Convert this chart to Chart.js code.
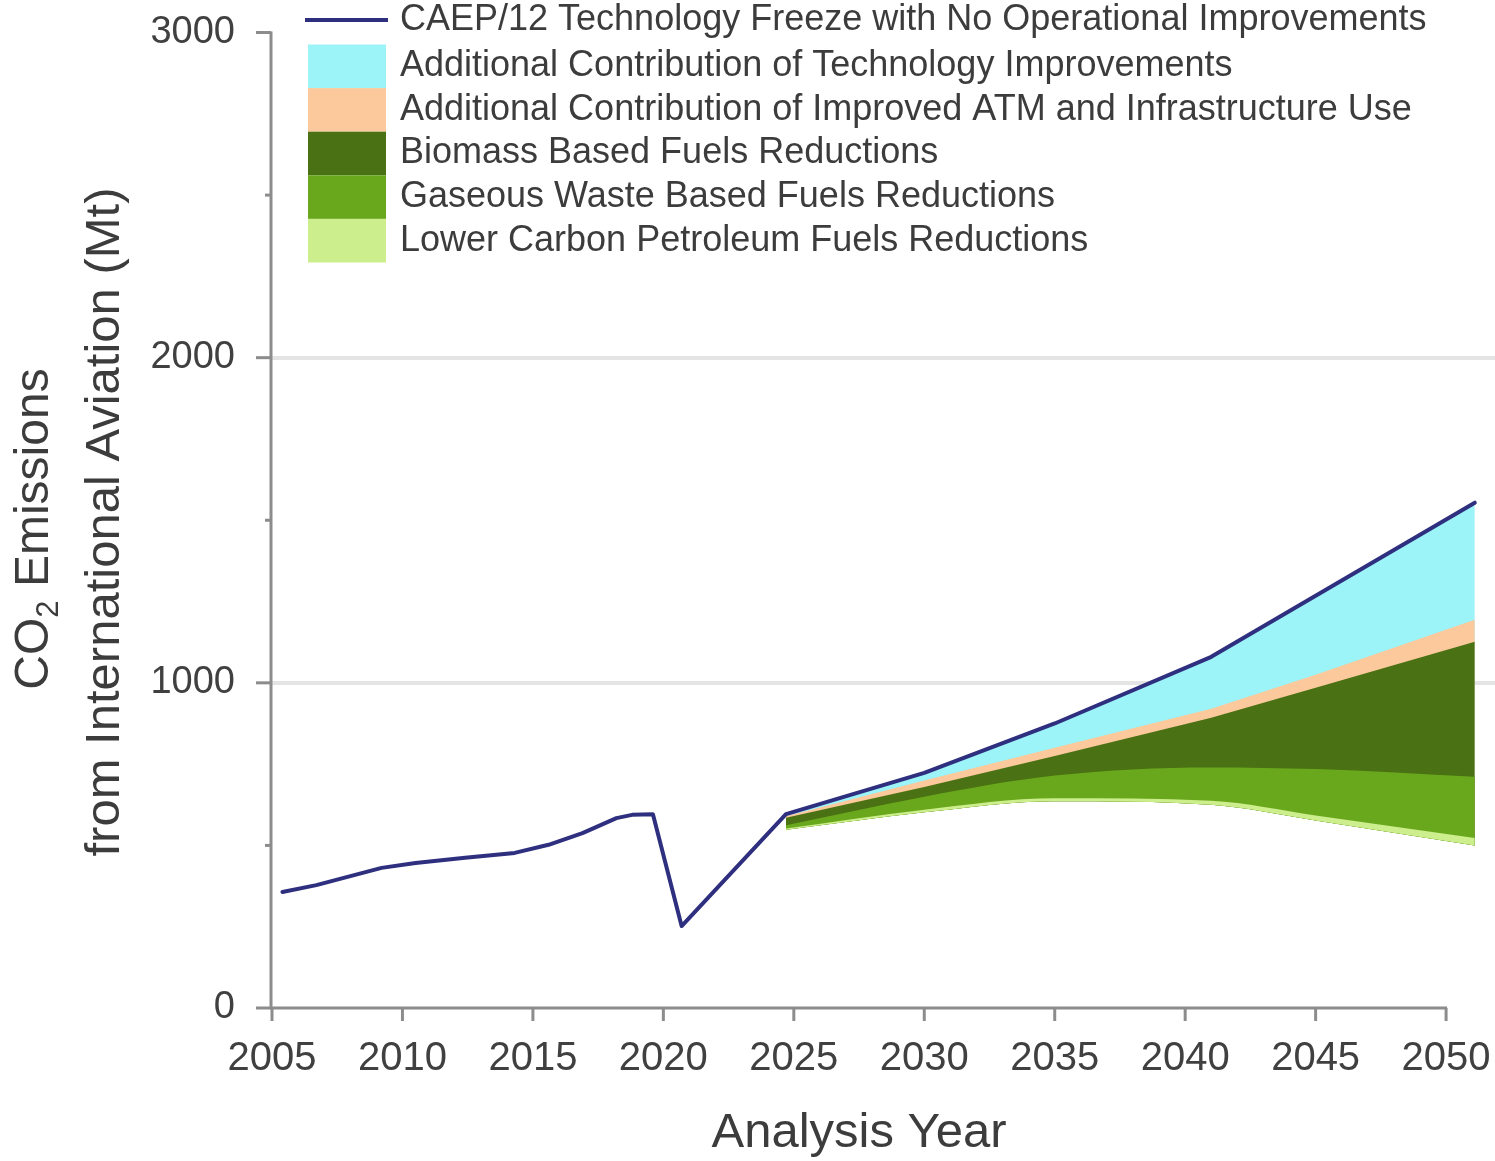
<!DOCTYPE html>
<html>
<head>
<meta charset="utf-8">
<script src="https://cdn.jsdelivr.net/npm/chart.js@4.4.1/dist/chart.umd.min.js"></script>
<style>
  html, body { margin: 0; padding: 0; background: #ffffff; }
  #wrap { width: 1495px; height: 1161px; position: relative; }
  canvas { display: block; }
</style>
</head>
<body>
<div id="wrap"><canvas id="c" width="1495" height="1161"></canvas></div>
<script>
// ---------------- DATA ----------------
const histYears      = [2005.4, 2006.7, 2009.2, 2010.5, 2012.4, 2014.3, 2015.6, 2016.9, 2018.2, 2018.8, 2019.6, 2020.7];
const histEmissions  = [357, 378, 431, 446, 462, 477, 502, 538, 584, 594, 596, 252];

const projYears         = [2024.7, 2030, 2035, 2041, 2045, 2051.1];
const freezeBaseline    = [596, 723, 875, 1080, 1268, 1554];   // CAEP/12 technology freeze
const afterTechnology   = [590, 700, 800, 920, 1025, 1194];    // minus technology improvements
const afterOperations   = [585, 680, 775, 893, 985, 1126];     // minus ATM / infrastructure
const afterBiomass      = [562, 650, 715, 740, 735, 711];      // minus biomass fuels
const afterGaseousWaste = [552, 610, 645, 637, 592, 523];      // minus gaseous waste fuels
const afterLowerCarbon  = [548, 602, 636, 625, 577, 500];      // minus lower carbon petroleum fuels

const xTickYears     = [2005, 2010, 2015, 2020, 2025, 2030, 2035, 2040, 2045, 2050];
const yTickValues    = [0, 500, 1000, 1500, 2000, 2500, 3000];
const yLabelledTicks = [0, 1000, 2000, 3000];
const yGridValues    = [1000, 2000];

const seriesLabels = [
  'CAEP/12 Technology Freeze with No Operational Improvements',
  'Additional Contribution of Technology Improvements',
  'Additional Contribution of Improved ATM and Infrastructure Use',
  'Biomass Based Fuels Reductions',
  'Gaseous Waste Based Fuels Reductions',
  'Lower Carbon Petroleum Fuels Reductions'
];
const seriesColors = ['#2f2f7f', '#9cf3f8', '#fbc99b', '#4a7114', '#69a81c', '#cdee8c'];

const xTitle = 'Analysis Year';
const yTitleLine2 = 'from International Aviation (Mt)';

// ---------------- STYLE ----------------
const FONT = '"Liberation Sans", Arial, sans-serif';
const AXIS_COLOR = '#8c8c8c';
const TEXT_COLOR = '#3c3c3c';

const pts = (xs, ys) => xs.map((x, i) => ({ x: x, y: ys[i] }));
const lineYears = histYears.concat(projYears);
const lineValues = histEmissions.concat(freezeBaseline);

const area = (label, values, color, smooth) => ({
  label: label, data: pts(projYears, values), backgroundColor: color,
  borderWidth: 0, pointRadius: 0, fill: 1,
  cubicInterpolationMode: smooth ? 'monotone' : 'default', tension: smooth ? 0.4 : 0
});

const datasets = [
  { label: seriesLabels[0], data: pts(lineYears, lineValues), borderColor: seriesColors[0],
    backgroundColor: seriesColors[0], borderWidth: 4, pointRadius: 0, fill: false, tension: 0,
    borderJoinStyle: 'round', borderCapStyle: 'round' },
  { label: 'Remaining emissions', data: pts(projYears, afterLowerCarbon), borderWidth: 0,
    borderColor: 'rgba(0,0,0,0)', pointRadius: 0, fill: false,
    cubicInterpolationMode: 'monotone', tension: 0.4 },
  area(seriesLabels[5], afterGaseousWaste, seriesColors[5], true),
  area(seriesLabels[4], afterBiomass, seriesColors[4], true),
  area(seriesLabels[3], afterOperations, seriesColors[3], false),
  area(seriesLabels[2], afterTechnology, seriesColors[2], false),
  area(seriesLabels[1], freezeBaseline, seriesColors[1], false)
];
const legendOrder = [0, 6, 5, 4, 3, 2];

const decorations = {
  id: 'decorations',
  afterDraw(chart) {
    const { ctx, chartArea } = chart;
    const x = chart.scales.x, y = chart.scales.y;
    ctx.save();
    // axis lines
    const axX = chartArea.left - 1;
    ctx.strokeStyle = AXIS_COLOR;
    ctx.lineWidth = 3;
    ctx.beginPath();
    ctx.moveTo(axX, y.getPixelForValue(yTickValues[yTickValues.length - 1]) - 1);
    ctx.lineTo(axX, y.getPixelForValue(0) + 1);
    ctx.moveTo(axX - 1, chartArea.bottom);
    ctx.lineTo(x.getPixelForValue(xTickYears[xTickYears.length - 1]) + 1, chartArea.bottom);
    ctx.stroke();
    // y tick marks
    yTickValues.forEach(v => {
      const py = y.getPixelForValue(v);
      const len = yLabelledTicks.includes(v) ? 15 : 6;
      ctx.beginPath();
      ctx.moveTo(axX - len, py);
      ctx.lineTo(axX, py);
      ctx.stroke();
    });
    // x tick marks
    xTickYears.forEach(v => {
      const px = x.getPixelForValue(v);
      ctx.beginPath();
      ctx.moveTo(px, chartArea.bottom);
      ctx.lineTo(px, chartArea.bottom + 13);
      ctx.stroke();
    });

    // x title
    ctx.fillStyle = TEXT_COLOR;
    ctx.font = '49px ' + FONT;
    ctx.textAlign = 'center';
    ctx.textBaseline = 'middle';
    const cx = (x.getPixelForValue(xTickYears[0]) + x.getPixelForValue(xTickYears[xTickYears.length - 1])) / 2;
    ctx.fillText(xTitle, cx, 1133);

    // y title (two lines, rotated, with subscript)
    ctx.save();
    ctx.translate(35, 529);
    ctx.rotate(-Math.PI / 2);
    ctx.textAlign = 'left';
    ctx.textBaseline = 'middle';
    const big = '48px ' + FONT, small = '31px ' + FONT;
    ctx.font = big; const wCO = ctx.measureText('CO').width;
    const wRest = ctx.measureText(' Emissions').width;
    ctx.font = small; const w2 = ctx.measureText('2').width;
    let sx = -(wCO + w2 + wRest) / 2;
    ctx.font = big; ctx.fillText('CO', sx, 0); sx += wCO;
    ctx.font = small; ctx.fillText('2', sx, 14); sx += w2;
    ctx.font = big; ctx.fillText(' Emissions', sx, 0);
    ctx.restore();
    ctx.save();
    ctx.translate(105, 522);
    ctx.rotate(-Math.PI / 2);
    ctx.textAlign = 'center';
    ctx.textBaseline = 'middle';
    ctx.font = '49px ' + FONT;
    ctx.fillText(yTitleLine2, 0, 0);
    ctx.restore();

    // legend
    ctx.font = '36px ' + FONT;
    ctx.textAlign = 'left';
    ctx.textBaseline = 'middle';
    const rowH = 43.6;
    legendOrder.forEach((di, i) => {
      const ds = chart.data.datasets[di];
      let cy;
      if (i === 0) {
        cy = 20;
        ctx.strokeStyle = ds.borderColor;
        ctx.lineWidth = 4;
        ctx.beginPath();
        ctx.moveTo(305, cy);
        ctx.lineTo(388, cy);
        ctx.stroke();
      } else {
        const top = 44.5 + (i - 1) * rowH;
        cy = top + rowH / 2;
        ctx.fillStyle = ds.backgroundColor;
        ctx.fillRect(308, top, 78, rowH);
      }
      ctx.fillStyle = TEXT_COLOR;
      ctx.fillText(ds.label, 400, cy);
    });
    ctx.restore();
  }
};

new Chart(document.getElementById('c'), {
  type: 'line',
  data: { datasets: datasets },
  plugins: [decorations],
  options: {
    responsive: false,
    animation: false,
    devicePixelRatio: 1,
    layout: { padding: 0 },
    plugins: {
      legend: { display: false },
      tooltip: { enabled: false },
      title: { display: false },
      filler: { propagate: false }
    },
    elements: { point: { radius: 0 } },
    scales: {
      x: {
        type: 'linear',
        min: 2005,
        max: 2051.875,
        offset: false,
        border: { display: false },
        grid: { display: false, drawOnChartArea: false, drawTicks: false },
        afterBuildTicks: s => { s.ticks = xTickYears.map(v => ({ value: v })); },
        afterFit: s => { s.height = 153; s.paddingLeft = 0; s.paddingRight = 0; },
        ticks: {
          autoSkip: false,
          maxRotation: 0,
          padding: 27,
          color: '#404040',
          font: { family: FONT, size: 40 },
          callback: v => String(v)
        }
      },
      y: {
        type: 'linear',
        min: 0,
        max: 3100,
        border: { display: false },
        grid: {
          drawTicks: false,
          lineWidth: 4,
          color: c => (c.tick && yGridValues.includes(c.tick.value)) ? '#e4e4e4' : 'rgba(0,0,0,0)'
        },
        afterBuildTicks: s => { s.ticks = yTickValues.map(v => ({ value: v })); },
        afterFit: s => { s.width = 272; s.paddingTop = 0; s.paddingBottom = 0; },
        ticks: {
          autoSkip: false,
          padding: 37,
          color: '#404040',
          font: { family: FONT, size: 38 },
          callback: v => yLabelledTicks.includes(v) ? String(v) : ''
        }
      }
    }
  }
});
</script>
</body>
</html>
